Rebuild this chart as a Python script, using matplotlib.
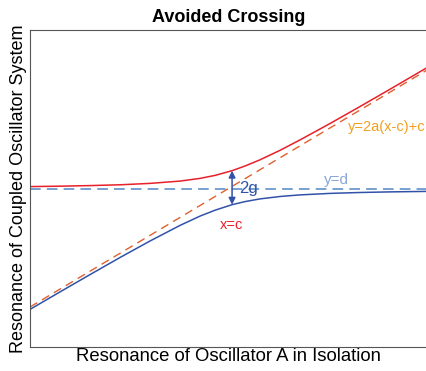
import numpy as np
import matplotlib.pyplot as plt

plt.rcParams['font.family'] = ['Liberation Sans', 'DejaVu Sans']

# values (x, y in plot units; axis spans 0..397 by 0..317)
x_pts = [0, 30, 60, 90, 120, 150, 170, 185, 202, 215, 230, 250, 270, 300, 330, 360, 397]
upper = [160.4, 160.8, 161.4, 162.2, 163.6, 165.9, 168.6, 171.6, 176.3, 181.0,
         187.2, 196.7, 207.1, 223.5, 240.5, 257.8, 279.4]
lower = [37.6, 55.1, 72.4, 89.5, 106.0, 121.6, 130.9, 136.8, 142.3, 145.4,
         148.1, 150.5, 152.1, 153.6, 154.5, 155.1, 155.6]
diag_x = [0, 397]
diag_y = [40, 277]
d_level = 158
c_pos = 202

fig = plt.figure(figsize=(4.27, 3.71), dpi=100)
ax = fig.add_axes([0.0703, 0.0647, 0.93, 0.8545])

ax.plot(diag_x, diag_y, color='#e0602e', lw=1.0, dashes=(6, 4))
ax.axhline(d_level, color='#5288c8', lw=1.1, dashes=(7, 4))
ax.plot(x_pts, upper, color='#e8202a', lw=1.1)
ax.plot(x_pts, lower, color='#3152a8', lw=1.1)

ax.annotate('', xy=(c_pos, 142.3), xytext=(c_pos, 176.3),
            arrowprops=dict(arrowstyle='<|-|>', color='#3152a8', lw=1.1,
                            mutation_scale=10, shrinkA=0, shrinkB=0))

ax.text(395, 220, 'y=2a(x-c)+c', color='#f0a020', fontsize=10.5,
        va='center', ha='right')
ax.text(294, 167, 'y=d', color='#88a6d8', fontsize=11, va='center')
ax.text(190, 122, 'x=c', color='#e8202a', fontsize=10.5, va='center')
ax.text(209, 158, '2g', color='#3152a8', fontsize=12, va='center')

ax.set_xlim(0, 397)
ax.set_ylim(0, 317)
ax.set_xticks([])
ax.set_yticks([])
for s in ['left', 'bottom', 'top']:
    ax.spines[s].set_color('#555555')
ax.spines['right'].set_visible(False)

ax.set_title('Avoided Crossing', fontsize=13, fontweight='bold', pad=6)
ax.set_xlabel('Resonance of Oscillator A in Isolation', fontsize=13.3, labelpad=1)
ax.set_ylabel('Resonance of Coupled Oscillator System', fontsize=13, labelpad=2)

fig.savefig('out.png', dpi=100)
